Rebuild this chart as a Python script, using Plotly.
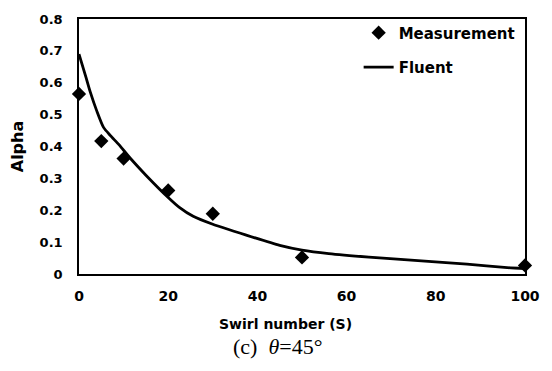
import plotly.graph_objects as go

# Measurement data
meas_x = [0, 5, 10, 20, 30, 50, 100]
meas_y = [0.565, 0.417, 0.362, 0.262, 0.189, 0.052, 0.027]

# Fluent simulation curve
fluent_x = [0, 1.5, 2.5, 4, 5.5, 7, 9, 11.5, 15, 20, 22.5, 25.6, 30, 37.5, 45, 50, 56, 65, 76, 87, 96, 100]
fluent_y = [0.69, 0.62, 0.572, 0.511, 0.46, 0.435, 0.405, 0.363, 0.31, 0.24, 0.209, 0.181, 0.156, 0.122,
            0.09, 0.075, 0.064, 0.053, 0.042, 0.031, 0.02, 0.017]

x_ticks = [0, 20, 40, 60, 80, 100]
y_ticks = [0, 0.1, 0.2, 0.3, 0.4, 0.5, 0.6, 0.7, 0.8]

FONT = "DejaVu Sans"

fig = go.Figure()
fig.add_trace(go.Scatter(
    x=meas_x, y=meas_y, mode="markers", name="Measurement",
    marker=dict(symbol="diamond", size=11, color="black"),
    cliponaxis=False, legendgroup="a"))
fig.add_trace(go.Scatter(
    x=fluent_x, y=fluent_y, mode="lines", name="Fluent",
    line=dict(color="black", width=2.8, shape="spline", smoothing=0.6),
    cliponaxis=False, legendgroup="b"))

fig.update_layout(
    width=552, height=371,
    margin=dict(l=79, r=25, t=12, b=97),
    paper_bgcolor="white", plot_bgcolor="white",
    font=dict(family=FONT, size=13, color="black"),
    showlegend=True,
    legend=dict(x=0.627, y=1.01, xanchor="left", yanchor="top",
                bgcolor="rgba(0,0,0,0)", traceorder="grouped", tracegroupgap=12,
                font=dict(family=FONT, size=15, color="black", weight="bold")),
    xaxis=dict(range=[0, 100], tickvals=x_ticks, showgrid=False, zeroline=False,
               showline=True, linecolor="black", linewidth=1.5, mirror=True,
               ticks="", ticklabelstandoff=8,
               tickfont=dict(family=FONT, size=14, weight="bold")),
    yaxis=dict(range=[0, 0.8], tickvals=y_ticks, showgrid=False, zeroline=False,
               showline=True, linecolor="black", linewidth=1.5, mirror=True,
               ticks="", ticklabelstandoff=12,
               tickfont=dict(family=FONT, size=13, weight="bold"),
               title=dict(text="Alpha", standoff=12,
                          font=dict(family=FONT, size=16, weight="bold"))),
)

fig.add_annotation(
    text="Swirl number (S)", xref="paper", yref="paper",
    x=(286 - 79) / 448, y=-(325 - 274) / 262, xanchor="center", yanchor="middle",
    showarrow=False, font=dict(family=FONT, size=14, weight="bold", color="black"))

fig.add_annotation(
    text="(c)  <i>θ</i>=45°", xref="paper", yref="paper",
    x=(278 - 79) / 448, y=-(349 - 274) / 262, xanchor="center", yanchor="middle", showarrow=False,
    font=dict(family="Liberation Serif", size=22, color="black"))

fig.write_html("out.html")
